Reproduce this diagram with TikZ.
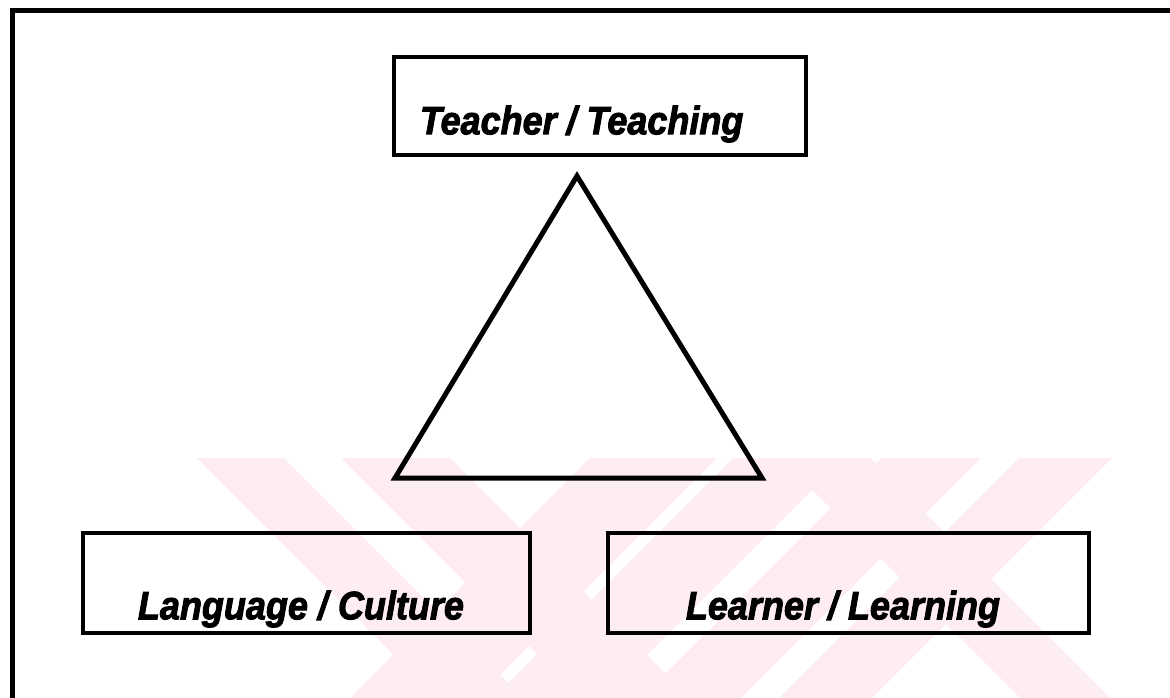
\documentclass[tikz,border=0pt]{standalone}
\usepackage{fontspec}
\setmainfont{Liberation Sans}
\usetikzlibrary{calc}
\definecolor{emblem}{RGB}{253,236,240}
% heavier lettering: fill and stroke the glyph outlines
\newcommand{\heavytext}[1]{\special{pdf:literal direct 2 Tr 0.9 w}#1\special{pdf:literal direct 0 Tr}}
\tikzset{
  frame/.style={line width=5pt, line cap=rect},
  box/.style={draw, line width=4.5pt, rectangle, inner sep=0pt},
  lbl/.style={anchor=base west, inner sep=0pt, transform shape, yscale=1.1,
    font=\fontsize{36}{40}\selectfont\bfseries\itshape},
  tri/.style={line width=5pt, line join=miter}
}
\begin{document}
\begin{tikzpicture}[x=1pt,y=-1pt]
\useasboundingbox (0,0) rectangle (1170,698);

% faint background emblem made of diagonal bands
\begin{scope}
  \clip (150,458) rectangle (1130,698);
  \fill[emblem] (197,458) -- (284,458) -- (524,698) -- (437,698) -- cycle;
  \fill[emblem] (341,458) -- (450,458) -- (690,698) -- (581,698) -- cycle;
  \fill[emblem] (590,458) -- (717,458) -- (477,698) -- (350,698) -- cycle;
  \fill[emblem] (733,458) -- (844,458) -- (604,698) -- (493,698) -- cycle;
  \fill[emblem] (881,458) -- (981,458) -- (741,698) -- (641,698) -- cycle;
  \fill[emblem] (1019,458) -- (1112,458) -- (872,698) -- (779,698) -- cycle;
  \fill[emblem] (780,458) -- (870,458) -- (1110,698) -- (1020,698) -- cycle;
\end{scope}

% open outer frame
\coordinate (fb) at (12,698);
\coordinate (fc) at (12,11);
\coordinate (fr) at (1170,11);
\draw[frame] (fb) -- (fc) -- (fr);

% three labelled boxes
\node[box, minimum width=412pt, minimum height=98pt] (tbox) at (600,106) {};
\node[lbl] (ttext) at ($(tbox.south west)+(28,-23)$) {\heavytext{Teacher / Teaching}};

\node[box, minimum width=447pt, minimum height=100pt] (lbox) at (306.5,583) {};
\node[lbl] (ltext) at ($(lbox.south west)+(57,-16)$) {\heavytext{Language / Culture}};

\node[box, minimum width=481pt, minimum height=100pt] (rbox) at (848.5,583) {};
\node[lbl] (rtext) at ($(rbox.south west)+(80,-16)$) {\heavytext{Learner / Learning}};

% central triangle
\coordinate (apex) at (577,176);
\coordinate (bl) at (395,478);
\coordinate (br) at (762,478);
\draw[tri] (apex) -- (bl) -- (br) -- cycle;
\end{tikzpicture}
\end{document}
